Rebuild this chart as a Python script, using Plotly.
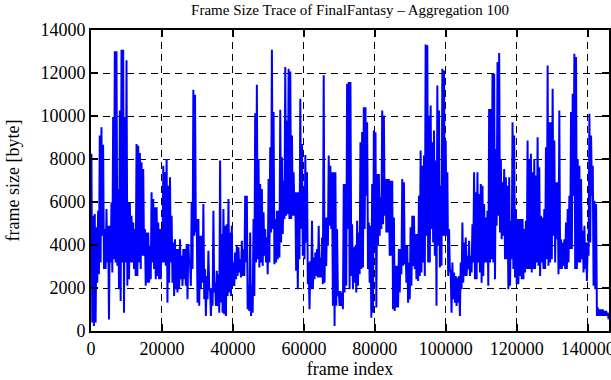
import plotly.graph_objects as go

# Frame size trace (aggregation 100), read per narrow column as local peak / local trough [byte]
peaks_a = [8240, 5360, 5440, 4820, 5590, 9090, 9480, 8660, 4740, 5670, 4900, 4900, 5980, 9950, 13010, 13010,
           6600, 10260, 13080, 13080, 9950, 12590, 5980, 5980, 5360, 5050, 4740, 8700, 8620, 8280, 7850, 7540,
           4740, 4580, 4580, 3960, 6450, 6140, 5750, 5750, 5050, 4740, 4740, 7690, 7380, 8000, 6760, 7150,
           5360, 4120, 4270, 3810, 3810, 4270, 3500, 3810, 3810, 4040, 4040, 3190, 5980, 11220, 10990, 5210,
           5210, 4430, 4430, 5910, 2880, 2560, 3730, 1940, 1940, 5590, 2250, 2800, 2640]
troughs_a = [390, 230, 390, 2250, 2640, 3190, 4430, 2880, 2880, 3190, 540, 3190, 2720, 3340, 3190, 3030,
             1940, 1400, 3190, 850, 3190, 2100, 2410, 3190, 3190, 2880, 2560, 2560, 3190, 2880, 3500, 3500,
             2100, 2250, 2250, 2410, 3190, 2880, 2410, 2560, 2410, 2410, 3190, 3190, 3030, 1320, 2250, 3190,
             2250, 1630, 1940, 1790, 1940, 2410, 2100, 2410, 2100, 1480, 3190, 2100, 2880, 4430, 4580, 1320,
             1170, 1940, 2250, 1480, 700, 1480, 1940, 700, 1170, 1790, 1170, 1170, 850]

peaks_b = [7930, 4510, 5670, 4900, 4970, 6140, 4580, 4900, 3190, 3650, 3960, 3890, 3340, 4200, 3810, 6290,
           6290, 2100, 4580, 2100, 5210, 10130, 11450, 8000, 6840, 6600, 5520, 4740, 4350, 7070, 8550, 13080,
           10180, 5210, 5590, 5590, 10290, 8080, 6990, 12280, 9790, 12200, 12070, 9090, 7380, 6450, 6450, 6450,
           10800, 8700, 6450, 8190, 7380, 3190, 3260, 5130, 3420, 3650, 3810, 4900, 3420, 4350, 11890, 5280,
           5280, 8160, 7690, 7380, 7380, 7380, 4740, 1860, 1860, 1790, 6840, 6840, 11500, 11580]
troughs_b = [1320, 850, 780, 700, 1630, 1790, 1630, 2100, 2100, 2410, 2560, 2720, 2490, 2560, 2560, 3190,
             1010, 930, 700, 850, 1630, 3190, 3340, 2950, 3190, 3030, 3500, 3190, 2640, 3190, 4580, 4740,
             3110, 3190, 3340, 3420, 4120, 4510, 5210, 5360, 5440, 5210, 5210, 5360, 5360, 2800, 1940, 3340,
             4740, 3500, 3340, 4120, 2180, 1010, 1940, 1940, 2410, 2560, 2490, 2490, 2490, 2180, 2250, 3030,
             3960, 4900, 4740, 1170, 230, 1170, 1630, 1170, 1170, 1010, 1790, 2100, 4740, 1940]

peaks_c = [11580, 4970, 3890, 3960, 5130, 4580, 8780, 9250, 10410, 10410, 9710, 5050, 4900, 6840, 9320, 9250,
           7300, 7300, 6220, 10260, 10020, 7070, 7070, 7070, 6990, 6990, 5280, 3030, 3030, 3810, 3810, 7070,
           6920, 3960, 3960, 3190, 4820, 5360, 5360, 4510, 4510, 6290, 8390, 7690, 8160, 13320, 13290, 10020,
           10490, 8780, 9320, 7930, 11420, 10260, 6760, 12200, 12120, 8860, 7380, 4740, 2720, 3190, 2720, 2560,
           2490, 2560, 3190, 5050, 4120, 4350, 3500, 4200, 3500, 4970, 7380, 6450, 7380, 6370]
troughs_c = [2560, 1940, 2250, 1790, 2100, 2640, 2880, 2950, 4740, 6290, 2880, 2250, 620, 850, 3960, 1090,
             3960, 4430, 4740, 4970, 5360, 4580, 4580, 3500, 3500, 1010, 930, 1090, 1090, 1790, 2640, 3030,
             3110, 2250, 1320, 1480, 2100, 3030, 2880, 2410, 2330, 2560, 2720, 3190, 2560, 4430, 3190, 3190,
             4740, 4120, 3500, 1170, 3960, 2950, 3030, 4430, 4430, 4430, 2560, 2880, 850, 1480, 1320, 1170,
             1320, 700, 1940, 2250, 2560, 2560, 2880, 2560, 2720, 3190, 2410, 2410, 3190, 2720]

peaks_d = [6840, 6760, 5910, 5280, 5590, 10330, 10330, 11970, 11970, 8470, 12510, 12930, 8000, 6920, 7540, 7150,
           6760, 7150, 5130, 9710, 9090, 5670, 5210, 5210, 5210, 5210, 4740, 5130, 8860, 8000, 8240, 7380,
           8000, 7230, 9010, 7620, 5360, 5280, 5670, 8550, 12350, 9710, 9710, 11270, 8860, 6920, 6920, 10260,
           4270, 4120, 4270, 5050, 5670, 6290, 10180, 11030, 12900, 12740, 8000, 7690, 7070, 4660, 4900, 4120,
           4120, 10100, 9090, 7690, 6060, 5910, 1090, 1010, 1010, 1010, 930, 930, 850]
troughs_d = [2250, 2560, 3190, 3190, 2100, 3190, 3340, 3190, 2410, 4900, 5360, 4580, 4270, 4430, 3340, 3340,
             1940, 2100, 3340, 2880, 2490, 2180, 2180, 2560, 2410, 2410, 2720, 2880, 2880, 2880, 2720, 2880,
             2880, 3190, 3030, 2560, 3190, 2880, 2880, 3340, 3030, 3190, 3340, 4430, 3190, 4270, 2640, 2880,
             2880, 3030, 2880, 2880, 3190, 3810, 3810, 6290, 2880, 2880, 3190, 3190, 3340, 2720, 2880, 2330,
             3500, 4120, 6290, 2100, 1940, 700, 700, 700, 700, 700, 700, 700, 540]

x_ticks = [0, 20000, 40000, 60000, 80000, 100000, 120000, 140000]
y_ticks = [0, 2000, 4000, 6000, 8000, 10000, 12000, 14000]
frames_per_column = 471  # frames covered by each read column

peaks = peaks_a + peaks_b + peaks_c + peaks_d
troughs = troughs_a + troughs_b + troughs_c + troughs_d

xs, ys = [], []
for i, (p, t) in enumerate(zip(peaks, troughs)):
    base = i * frames_per_column
    xs += [base + 120, base + 355]
    ys += [p, t]

font_family = "Liberation Serif, Times New Roman, serif"

fig = go.Figure()
fig.add_trace(go.Scatter(x=xs, y=ys, mode="lines",
                         line=dict(color="#0000ff", width=2), showlegend=False))

axis_common = dict(
    showline=True, linecolor="black", linewidth=2, mirror="ticks",
    ticks="inside", ticklen=7, tickwidth=1.5, tickcolor="black",
    showgrid=True, gridcolor="black", gridwidth=1, griddash="7px,5px",
    zeroline=False, automargin=False, ticklabeloverflow="allow",
    tickfont=dict(family=font_family, size=18, color="black"),
)

fig.update_xaxes(range=[0, 146000], tickvals=x_ticks, ticktext=[str(v) for v in x_ticks],
                 title=dict(text="frame index", font=dict(family=font_family, size=18, color="black"),
                            standoff=4),
                 **axis_common)
fig.update_yaxes(range=[0, 14000], tickvals=y_ticks, ticktext=[str(v) for v in y_ticks],
                 title=dict(text="frame size [byte]", font=dict(family=font_family, size=18, color="black"),
                            standoff=16),
                 **axis_common)

fig.update_layout(
    width=611, height=380,
    margin=dict(l=91, r=2, t=30, b=49, autoexpand=False),
    paper_bgcolor="white", plot_bgcolor="white",
    title=dict(text="Frame Size Trace of FinalFantasy – Aggregation 100",
               font=dict(family=font_family, size=15, color="black"),
               x=350 / 611, xanchor="center", y=0.975, yanchor="middle", automargin=False),
)

fig.write_html("out.html", config={"displayModeBar": False},
               post_script="document.body.style.margin='0';document.body.style.overflow='hidden';")
